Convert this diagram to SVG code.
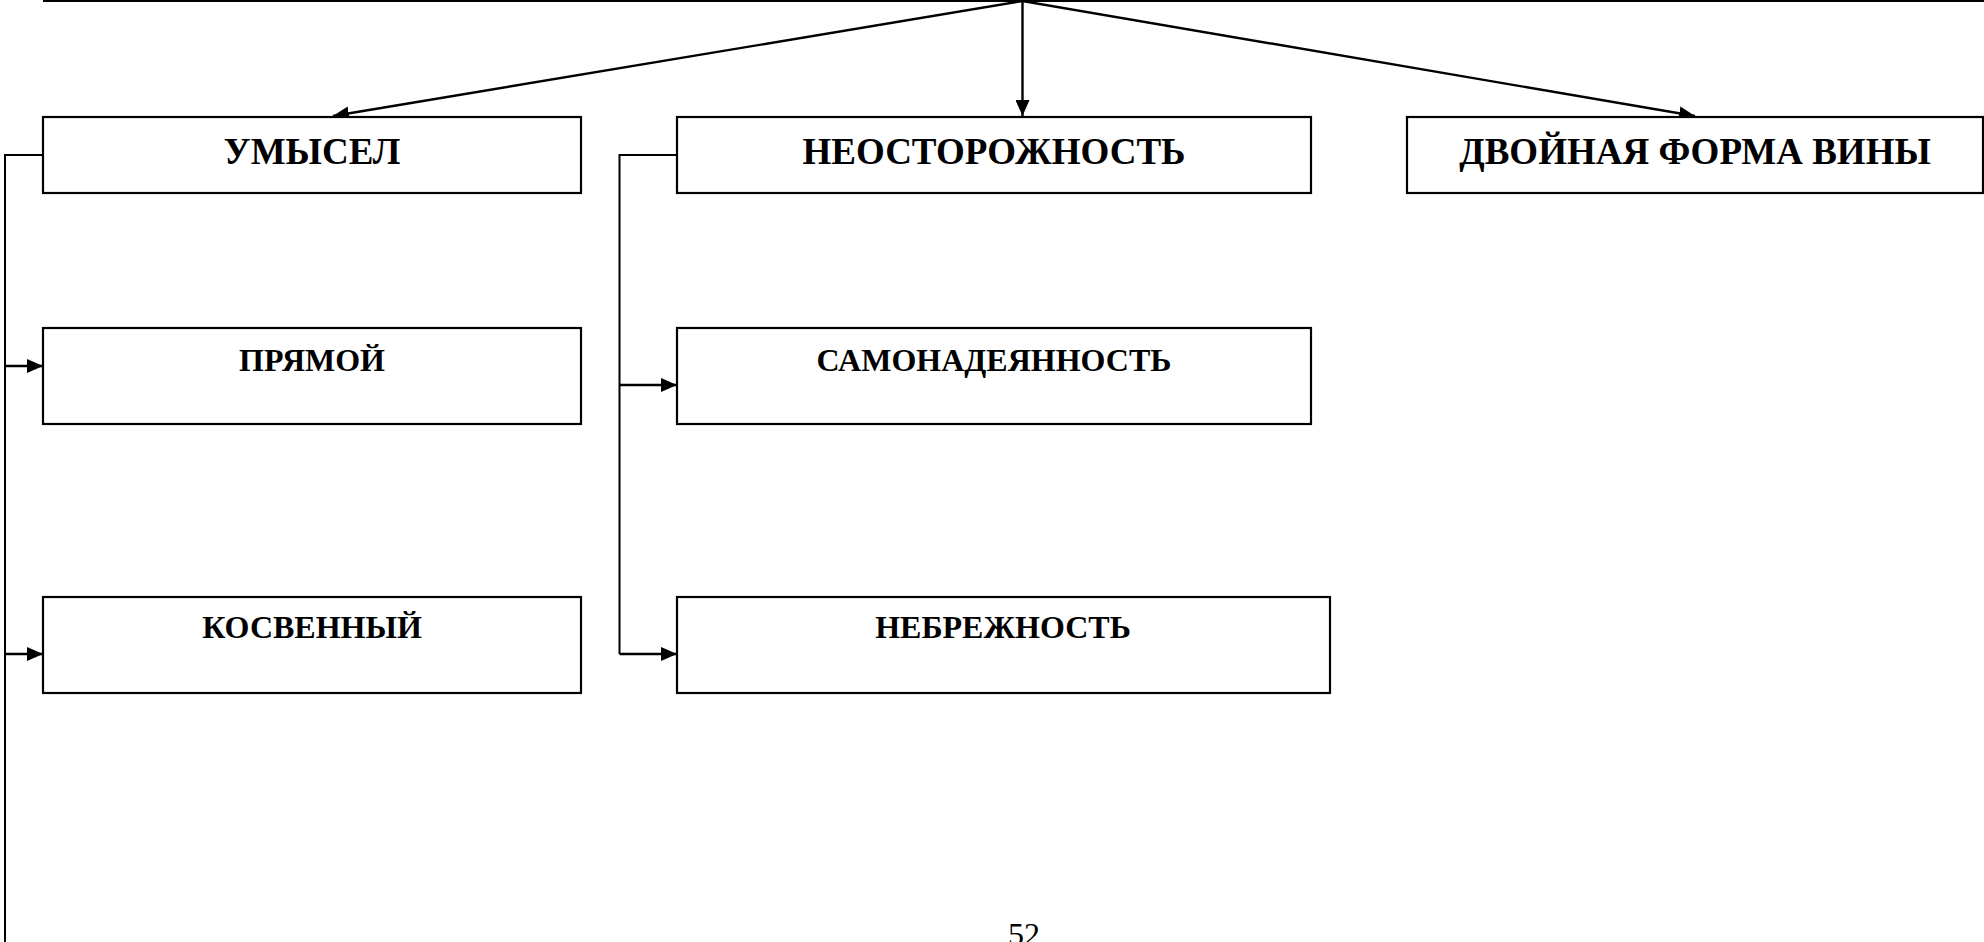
<svg xmlns="http://www.w3.org/2000/svg" width="1984" height="942" viewBox="0 0 1984 942">
<style>
.box{fill:#fff;stroke:#000;stroke-width:2.2}
.t1{font-family:"Liberation Serif","Times New Roman",serif;font-weight:bold;font-size:37px;text-anchor:middle;fill:#000}
.t2{font-family:"Liberation Serif","Times New Roman",serif;font-weight:bold;font-size:32px;text-anchor:middle;fill:#000}
.pg{font-family:"Liberation Serif","Times New Roman",serif;font-size:32px;text-anchor:middle;fill:#000}
.ln{fill:none;stroke:#000;stroke-width:2}
.ar{fill:none;stroke:#000;stroke-width:2.4;marker-end:url(#ah)}
</style>
<defs>
<marker id="ah" markerUnits="userSpaceOnUse" markerWidth="16" markerHeight="14" refX="16" refY="7" orient="auto">
<path d="M0,0 L16,7 L0,14 z" fill="#000"/>
</marker>
</defs>
<g id="connectors">
<line class="ln" x1="43" y1="1" x2="1984" y2="1"/>
<line class="ar" x1="1022.5" y1="1" x2="333" y2="116"/>
<line class="ar" x1="1022.5" y1="1" x2="1022.5" y2="116"/>
<line class="ar" x1="1022.5" y1="1" x2="1695" y2="116"/>
<polyline class="ln" points="43,155 5,155 5,942"/>
<line class="ar" x1="5" y1="366" x2="43" y2="366"/>
<line class="ar" x1="5" y1="654" x2="43" y2="654"/>
<polyline class="ln" points="677,155 619.5,155 619.5,654"/>
<line class="ar" x1="619.5" y1="385" x2="677" y2="385"/>
<line class="ar" x1="619.5" y1="654" x2="677" y2="654"/>
</g>
<g id="n-umysel">
<rect class="box" x="43" y="117" width="538" height="76"/>
<text class="t1" x="312" y="164">УМЫСЕЛ</text>
</g>
<g id="n-neostor">
<rect class="box" x="677" y="117" width="634" height="76"/>
<text class="t1" x="994" y="164">НЕОСТОРОЖНОСТЬ</text>
</g>
<g id="n-dvoynaya">
<rect class="box" x="1407" y="117" width="576" height="76"/>
<text class="t1" x="1695" y="164">ДВОЙНАЯ ФОРМА ВИНЫ</text>
</g>
<g id="n-pryamoy">
<rect class="box" x="43" y="328" width="538" height="96"/>
<text class="t2" x="312" y="371">ПРЯМОЙ</text>
</g>
<g id="n-kosvenny">
<rect class="box" x="43" y="597" width="538" height="96"/>
<text class="t2" x="312" y="638">КОСВЕННЫЙ</text>
</g>
<g id="n-samonad">
<rect class="box" x="677" y="328" width="634" height="96"/>
<text class="t2" x="994" y="371">САМОНАДЕЯННОСТЬ</text>
</g>
<g id="n-nebrezh">
<rect class="box" x="677" y="597" width="653" height="96"/>
<text class="t2" x="1003" y="638">НЕБРЕЖНОСТЬ</text>
</g>
<text class="pg" x="1024" y="945">52</text>
</svg>
